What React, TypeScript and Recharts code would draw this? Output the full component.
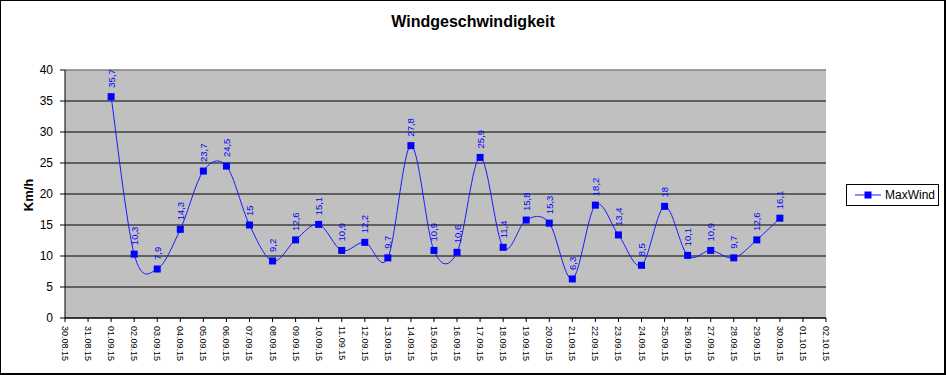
import React from "react";
import {
  LineChart,
  Line,
  XAxis,
  YAxis,
  CartesianGrid,
  ReferenceLine,
  LabelList,
} from "recharts";

const dates = [
  "30.08.15", "31.08.15", "01.09.15", "02.09.15", "03.09.15", "04.09.15",
  "05.09.15", "06.09.15", "07.09.15", "08.09.15", "09.09.15", "10.09.15",
  "11.09.15", "12.09.15", "13.09.15", "14.09.15", "15.09.15", "16.09.15",
  "17.09.15", "18.09.15", "19.09.15", "20.09.15", "21.09.15", "22.09.15",
  "23.09.15", "24.09.15", "25.09.15", "26.09.15", "27.09.15", "28.09.15",
  "29.09.15", "30.09.15", "01.10.15", "02.10.15",
];

const maxWind: (number | null)[] = [
  null, null,
  35.7, 10.3, 7.9, 14.3, 23.7, 24.5, 15, 9.2, 12.6, 15.1,
  10.9, 12.2, 9.7, 27.8, 10.9, 10.6, 25.9, 11.4, 15.8, 15.3,
  6.3, 18.2, 13.4, 8.5, 18, 10.1, 10.9, 9.7, 12.6, 16.1,
  null, null,
];

const yTicks = [0, 5, 10, 15, 20, 25, 30, 35, 40];
const gridValues = [0, 5, 10, 15, 20, 25, 30, 35];

const FONT = "Arial, 'Liberation Sans', sans-serif";

const chartData = dates.map((d, i) => ({ date: d, wind: maxWind[i] }));

// smoothed line like the old office charts (catmull-rom as bezier)
const smoothCurve = (context: any) => {
  let pts: number[][] = [];
  return {
    areaStart() {},
    areaEnd() {},
    lineStart() {
      pts = [];
    },
    point(x: number, y: number) {
      pts.push([+x, +y]);
    },
    lineEnd() {
      const n = pts.length;
      if (!n) return;
      context.moveTo(pts[0][0], pts[0][1]);
      for (let i = 0; i < n - 1; i++) {
        const p0 = pts[i - 1] || pts[i];
        const p1 = pts[i];
        const p2 = pts[i + 1];
        const p3 = pts[i + 2] || p2;
        context.bezierCurveTo(
          p1[0] + (p2[0] - p0[0]) / 6,
          p1[1] + (p2[1] - p0[1]) / 6,
          p2[0] - (p3[0] - p1[0]) / 6,
          p2[1] - (p3[1] - p1[1]) / 6,
          p2[0],
          p2[1]
        );
      }
    },
  };
};

const SquareDot = (props: any) => {
  const { cx, cy, index } = props;
  if (cx == null || cy == null) return <g key={index} />;
  return <rect key={index} x={cx - 3.5} y={cy - 3.5} width={7} height={7} fill="#0000FF" />;
};

const ValueLabel = (props: any) => {
  const { x, y, value } = props;
  if (value == null || x == null || y == null) return null;
  const ty = y - 9;
  return (
    <text
      x={x}
      y={ty}
      transform={`rotate(-90 ${x} ${ty})`}
      textAnchor="start"
      dominantBaseline="central"
      fontSize={9.5}
      fontFamily={FONT}
      fill="#0000FF"
    >
      {String(value).replace(".", ",")}
    </text>
  );
};

const DateTick = (props: any) => {
  const { x, y, payload } = props;
  return (
    <text
      x={x}
      y={y}
      transform={`rotate(90 ${x} ${y})`}
      textAnchor="start"
      dominantBaseline="central"
      fontSize={9}
      fontFamily={FONT}
      fill="#000"
    >
      {payload.value}
    </text>
  );
};

export default function App() {
  return (
    <div
      style={{
        position: "absolute",
        left: 0,
        top: 0,
        width: 946,
        height: 375,
        background: "#fff",
        fontFamily: FONT,
      }}
    >
      <LineChart
        width={946}
        height={375}
        data={chartData}
        margin={{ top: 70, right: 120, left: 25, bottom: 7 }}
      >
        <CartesianGrid
          fill="#C0C0C0"
          vertical={false}
          stroke="#000"
          strokeOpacity={1}
          horizontalValues={gridValues}
        />
        <ReferenceLine y={40} stroke="#808080" strokeWidth={1.5} ifOverflow="extendDomain" />
        <XAxis
          dataKey="date"
          interval={0}
          height={50}
          tickSize={4}
          tickMargin={4}
          tick={<DateTick />}
          axisLine={{ stroke: "#000" }}
          tickLine={{ stroke: "#000" }}
        />
        <YAxis
          domain={[0, 40]}
          ticks={yTicks}
          width={40}
          tickSize={5}
          tickMargin={7}
          axisLine={{ stroke: "#000" }}
          tickLine={{ stroke: "#000" }}
          tick={{ fill: "#000", fontSize: 12, fontFamily: FONT }}
        />
        <Line
          dataKey="wind"
          type={smoothCurve as any}
          stroke="#1a1aff"
          strokeWidth={1}
          dot={<SquareDot />}
          activeDot={false}
          isAnimationActive={false}
        >
          <LabelList dataKey="wind" content={<ValueLabel />} />
        </Line>
      </LineChart>

      <div
        style={{
          position: "absolute",
          left: 0,
          top: 13,
          width: 946,
          textAlign: "center",
          fontWeight: "bold",
          fontSize: 16,
        }}
      >
        Windgeschwindigkeit
      </div>

      <div
        style={{
          position: "absolute",
          left: 28,
          top: 195,
          transform: "translate(-50%, -50%) rotate(-90deg)",
          fontWeight: "bold",
          fontSize: 13,
          whiteSpace: "nowrap",
        }}
      >
        Km/h
      </div>

      <div
        style={{
          position: "absolute",
          left: 846,
          top: 184,
          width: 93,
          height: 22,
          boxSizing: "border-box",
          border: "1px solid #000",
          background: "#fff",
          display: "flex",
          alignItems: "center",
          fontSize: 12,
        }}
      >
        <svg width={36} height={20} style={{ marginLeft: 2 }}>
          <line x1={6} y1={10} x2={32} y2={10} stroke="#1a1aff" strokeWidth={1} />
          <rect x={15.5} y={6.5} width={7} height={7} fill="#0000FF" />
        </svg>
        <span>MaxWind</span>
      </div>

      <div
        style={{
          position: "absolute",
          left: 0,
          top: 0,
          width: 946,
          height: 375,
          boxSizing: "border-box",
          borderTop: "1px solid #000",
          borderLeft: "1px solid #000",
          borderRight: "2px solid #000",
          borderBottom: "2px solid #000",
          pointerEvents: "none",
        }}
      />
    </div>
  );
}
